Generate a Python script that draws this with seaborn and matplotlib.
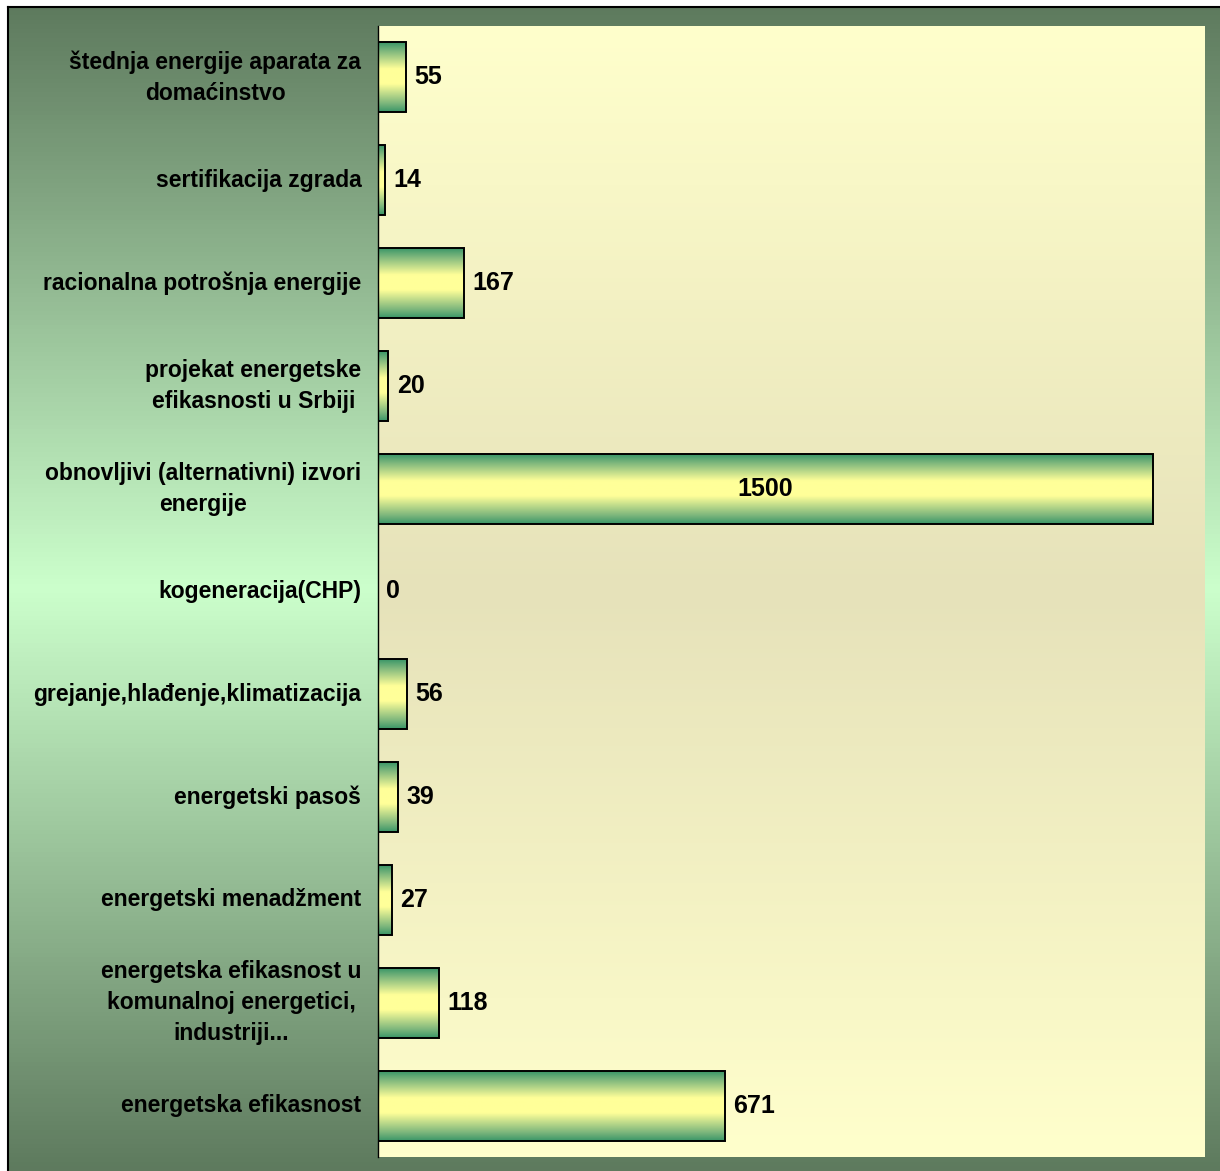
import matplotlib
matplotlib.use("Agg")
import matplotlib.pyplot as plt
import numpy as np
import seaborn as sns
from matplotlib.colors import LinearSegmentedColormap

categories = [
    "štednja energije aparata za\ndomaćinstvo",
    "sertifikacija zgrada",
    "racionalna potrošnja energije",
    "projekat energetske\nefikasnosti u Srbiji",
    "obnovljivi (alternativni) izvori\nenergije",
    "kogeneracija(CHP)",
    "grejanje,hlađenje,klimatizacija",
    "energetski pasoš",
    "energetski menadžment",
    "energetska efikasnost u\nkomunalnoj energetici,\nindustriji...",
    "energetska efikasnost",
]
values = [55, 14, 167, 20, 1500, 0, 56, 39, 27, 118, 671]

sns.set_style("white")
plt.rcParams["font.family"] = ["Liberation Sans", "DejaVu Sans"]
plt.rcParams["font.weight"] = "bold"
plt.rcParams["text.color"] = "black"
plt.rcParams["ytick.color"] = "black"
plt.rcParams["ytick.labelcolor"] = "black"

W, H = 1220, 1171
fig = plt.figure(figsize=(W / 100, H / 100), dpi=100)
fig.patch.set_facecolor("white")

# outer green gradient panel
bg = fig.add_axes([7.5 / W, 0, 1 - 7.5 / W, 1 - 6.5 / H], zorder=-2)
outer_cmap = LinearSegmentedColormap.from_list(
    "outer", [(0, "#5e7a5e"), (0.5, "#ccffcc"), (1, "#5e7a5e")])
bg.imshow(np.linspace(0, 1, 256).reshape(-1, 1), cmap=outer_cmap,
          aspect="auto", extent=[0, 1, 0, 1], origin="upper")
bg.set_xticks([])
bg.set_yticks([])
for side in ["right", "bottom"]:
    bg.spines[side].set_visible(False)
for side in ["top", "left"]:
    bg.spines[side].set_color("black")
    bg.spines[side].set_linewidth(1.5)

ax = fig.add_axes([378 / W, 14 / H, 827 / W, 1131 / H])
sns.barplot(x=values, y=categories, orient="h", width=0.68,
            facecolor="none", edgecolor="black", linewidth=1.4, ax=ax)

xmax = 1600
n = len(categories)

# plot area gradient
inner_cmap = LinearSegmentedColormap.from_list(
    "inner", [(0, "#ffffcc"), (0.5, "#e6e2ba"), (1, "#ffffcc")])
ax.imshow(np.linspace(0, 1, 256).reshape(-1, 1), cmap=inner_cmap, aspect="auto",
          extent=[0, xmax, n - 0.5, -0.5], origin="upper", zorder=0)

bar_cmap = LinearSegmentedColormap.from_list(
    "bar", [(0, "#3a9668"), (0.12, "#7cb67c"), (0.38, "#ffff99"),
            (0.6, "#ffff99"), (0.88, "#7cb67c"), (1, "#3a9668")])
for p in ax.patches:
    x0, y0, w, h = p.get_x(), p.get_y(), p.get_width(), p.get_height()
    if w <= 0:
        p.set_linewidth(0)
        continue
    ax.imshow(np.linspace(0, 1, 128).reshape(-1, 1), cmap=bar_cmap,
              aspect="auto", extent=[x0, x0 + w, y0 + h, y0],
              origin="upper", zorder=1)
    p.set_zorder(2)

for i, v in enumerate(values):
    if v == max(values):
        ax.text(v / 2, i, str(v), ha="center", va="center",
                fontsize=18, fontweight="bold", color="black", zorder=3)
    else:
        ax.annotate(str(v), (v, i), xytext=(6, 0), textcoords="offset points",
                    ha="left", va="center", fontsize=18, fontweight="bold",
                    color="black", zorder=3)

ax.set_xlim(0, xmax)
ax.set_ylim(n - 0.5, -0.5)
ax.set_facecolor("none")
ax.set_xticks([])
ax.set_xlabel("")
ax.set_ylabel("")
ax.tick_params(axis="y", length=0, pad=12, labelcolor="black")
for lab in ax.get_yticklabels():
    lab.set_multialignment("center")
    lab.set_verticalalignment("center")
    lab.set_fontsize(16.5)
    lab.set_fontweight("bold")
    lab.set_linespacing(1.45)
    lab.set_color("black")
for side in ["top", "right", "bottom"]:
    ax.spines[side].set_visible(False)
ax.spines["left"].set_color("black")
ax.spines["left"].set_linewidth(1.0)

fig.savefig("out.png", dpi=100)
